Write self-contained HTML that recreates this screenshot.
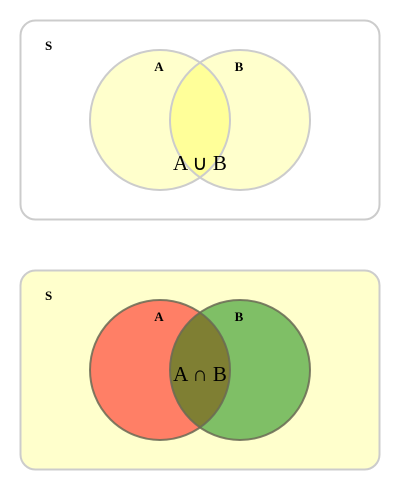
<!DOCTYPE html>
<html><head><meta charset="utf-8"><style>
html,body{margin:0;padding:0;background:#fff;}
svg{display:block;}
text{font-family:"Liberation Serif",serif;fill:#000;}
</style></head><body>
<svg width="400" height="500" viewBox="0 0 400 500">
  <defs>
    <clipPath id="clipA1"><circle cx="160" cy="120" r="70"/></clipPath>
    <clipPath id="clipA2"><circle cx="160" cy="370" r="70"/></clipPath>
  </defs>
  <g>
    <rect x="20.5" y="20.5" width="359" height="199" rx="15" fill="#fff" stroke="#cccccc" stroke-width="2"/>
    <text x="45" y="50" font-size="13" font-weight="bold">S</text>
    <circle cx="160" cy="120" r="70" fill="#ffffcc"/>
    <circle cx="240" cy="120" r="70" fill="#ffffcc"/>
    <circle cx="240" cy="120" r="70" fill="#ffff99" clip-path="url(#clipA1)"/>
    <circle cx="160" cy="120" r="70" fill="none" stroke="#cccccc" stroke-width="2"/>
    <circle cx="240" cy="120" r="70" fill="none" stroke="#cccccc" stroke-width="2"/>
    <text x="159" y="71" font-size="13" font-weight="bold" text-anchor="middle">A</text>
    <text x="239" y="71" font-size="13" font-weight="bold" text-anchor="middle">B</text>
    <text x="200" y="170" font-size="21" text-anchor="middle">A ∪ B</text>
  </g>
  <g>
    <rect x="20.5" y="270.5" width="359" height="199" rx="15" fill="#ffffcc" stroke="#cccccc" stroke-width="2"/>
    <text x="45" y="300" font-size="13" font-weight="bold">S</text>
    <circle cx="160" cy="370" r="70" fill="#ff7f66"/>
    <circle cx="240" cy="370" r="70" fill="#7fbf66"/>
    <circle cx="240" cy="370" r="70" fill="#7f7f33" clip-path="url(#clipA2)"/>
    <circle cx="160" cy="370" r="70" fill="none" stroke="#6a6a55" stroke-opacity="0.85" stroke-width="2"/>
    <circle cx="240" cy="370" r="70" fill="none" stroke="#6a6a55" stroke-opacity="0.85" stroke-width="2"/>
    <text x="159" y="321" font-size="13" font-weight="bold" text-anchor="middle">A</text>
    <text x="239" y="321" font-size="13" font-weight="bold" text-anchor="middle">B</text>
    <text x="200" y="381" font-size="21" text-anchor="middle">A ∩ B</text>
  </g>
</svg>
</body></html>
